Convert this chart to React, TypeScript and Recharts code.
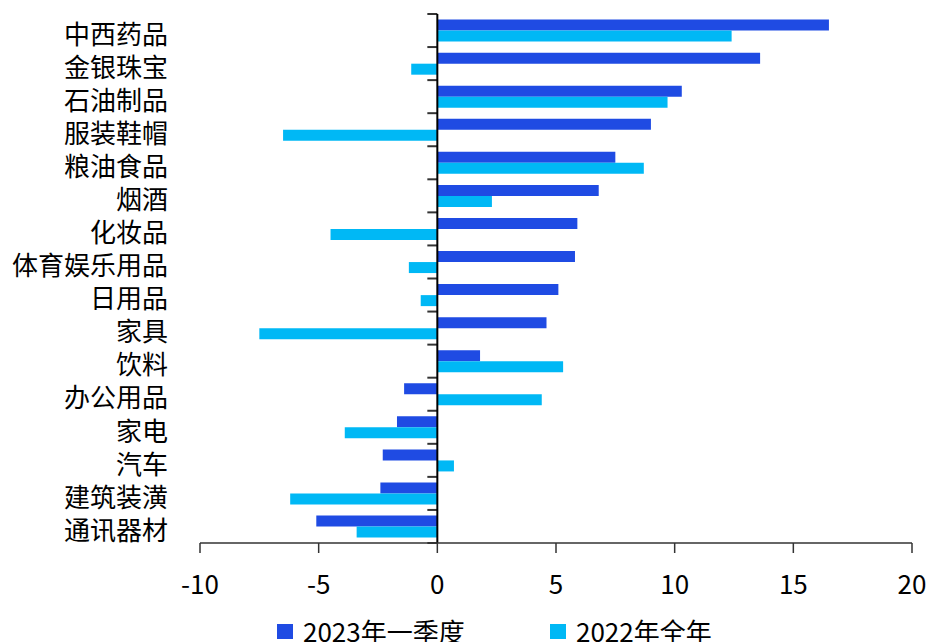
import { Bar, BarChart, XAxis, YAxis, Legend, ReferenceLine } from "recharts"

const categories = [
  "中西药品",
  "金银珠宝",
  "石油制品",
  "服装鞋帽",
  "粮油食品",
  "烟酒",
  "化妆品",
  "体育娱乐用品",
  "日用品",
  "家具",
  "饮料",
  "办公用品",
  "家电",
  "汽车",
  "建筑装潢",
  "通讯器材",
]

const q1_2023 = [16.5, 13.6, 10.3, 9.0, 7.5, 6.8, 5.9, 5.8, 5.1, 4.6, 1.8, -1.4, -1.7, -2.3, -2.4, -5.1]
const full_2022 = [12.4, -1.1, 9.7, -6.5, 8.7, 2.3, -4.5, -1.2, -0.7, -7.5, 5.3, 4.4, -3.9, 0.7, -6.2, -3.4]

const xTicks = [-10, -5, 0, 5, 10, 15, 20]

const seriesNames = ["2023年一季度", "2022年全年"]
const colors = ["#1f4be3", "#00b8f5"]

const data = categories.map((name, i) => ({
  name,
  q1: q1_2023[i],
  full: full_2022[i],
}))

const FONT = '"Noto Sans CJK SC", "Noto Sans", sans-serif'

// zero line with the small category ticks on its left side
const ZeroAxis = (props: any) => {
  const { x1, y1, y2 } = props
  const step = (y2 - y1) / categories.length
  const marks = []
  for (let i = 0; i <= categories.length; i++) {
    const y = y1 + i * step
    marks.push(<line key={i} x1={x1 - 10} x2={x1} y1={y} y2={y} stroke="#333" strokeWidth={2} />)
  }
  return (
    <g>
      {marks}
      <line x1={x1} x2={x1} y1={y1} y2={y2} stroke="#000" strokeWidth={2} />
    </g>
  )
}

const renderLegend = () => (
  <div style={{ height: 39, position: "relative", fontFamily: FONT, fontSize: 26, color: "#000" }}>
    {seriesNames.map((n, i) => (
      <div
        key={n}
        style={{
          position: "absolute",
          left: i === 0 ? 277 : 550,
          top: 10,
          display: "flex",
          alignItems: "center",
          lineHeight: "36px",
          whiteSpace: "nowrap",
        }}
      >
        <span style={{ display: "inline-block", width: 16, height: 15, background: colors[i], marginRight: 10 }} />
        {n}
      </div>
    ))}
  </div>
)

export default function App() {
  return (
    <div style={{ position: "absolute", left: 0, top: 0, background: "#fff" }}>
      <BarChart
        width={929}
        height={642}
        data={data}
        layout="vertical"
        margin={{ top: 14, right: 17, left: 0, bottom: 0 }}
        barCategoryGap="17%"
        barGap={0}
      >
        <XAxis
          type="number"
          domain={[-10, 20]}
          ticks={xTicks}
          height={60}
          tickSize={10}
          tickMargin={23}
          stroke="#333"
          strokeWidth={1.5}
          tick={{ fill: "#000", fontSize: 26, fontFamily: FONT }}
          allowDataOverflow
        />
        <YAxis
          type="category"
          dataKey="name"
          width={200}
          axisLine={false}
          tickLine={false}
          tickSize={0}
          tickMargin={32}
          interval={0}
          tick={{ fill: "#000", fontSize: 26, fontFamily: FONT, dy: 4 }}
        />
        <ReferenceLine x={0} shape={ZeroAxis} />
        <Legend verticalAlign="bottom" content={renderLegend} />
        <Bar dataKey="q1" name={seriesNames[0]} fill={colors[0]} isAnimationActive={false} />
        <Bar dataKey="full" name={seriesNames[1]} fill={colors[1]} isAnimationActive={false} />
      </BarChart>
    </div>
  )
}
